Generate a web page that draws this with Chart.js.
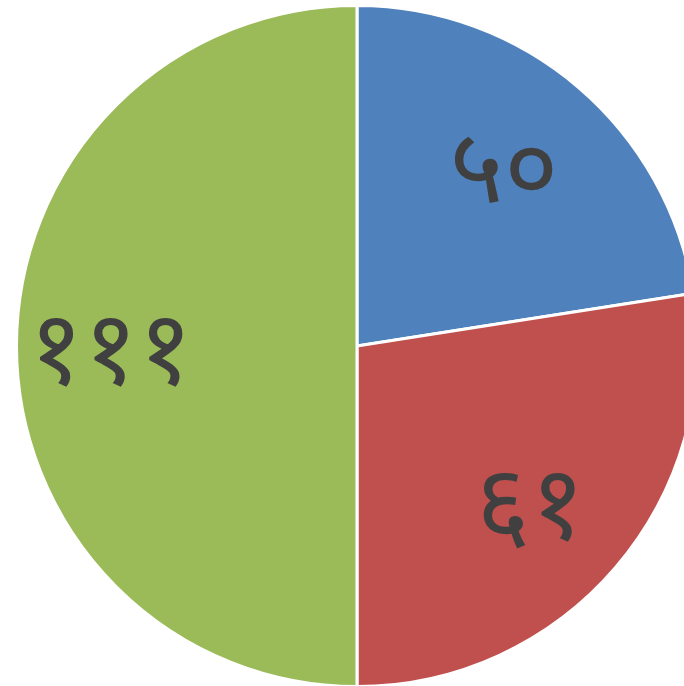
<!DOCTYPE html>
<html lang="hi">
  <head>
    <meta charset="UTF-8" />
    <title>Pie</title>
    <script src="https://cdn.jsdelivr.net/npm/chart.js"></script>
    <style>
      body {
        margin: 0;
        padding: 0;
        background: #ffffff;
        overflow: hidden;
      }
      .chart-box {
        position: absolute;
        left: 0;
        top: 0;
        width: 714px;
        height: 692px;
      }
    </style>
  </head>
  <body>
    <div class="chart-box"><canvas id="pieChart"></canvas></div>

    <script>
      const categories = ["A", "B", "C"];
      const values = [50, 61, 111];
      const valueLabels = ["५०", "६१", "१११"];
      const sliceColors = ["#4F81BD", "#C0504D", "#9BBB59"];

      // draw the value text inside each slice
      const sliceLabels = {
        id: "sliceLabels",
        afterDatasetsDraw(chart) {
          const ctx = chart.ctx;
          const meta = chart.getDatasetMeta(0);
          ctx.save();
          ctx.fillStyle = "#404040";
          ctx.font = '105px "Noto Sans", "DejaVu Sans", sans-serif';
          ctx.textAlign = "center";
          ctx.textBaseline = "middle";
          meta.data.forEach((arc, i) => {
            const p = arc.getProps(["x", "y", "startAngle", "endAngle", "outerRadius"], true);
            const mid = (p.startAngle + p.endAngle) / 2;
            const r = p.outerRadius * 0.7;
            ctx.fillText(valueLabels[i], p.x + Math.cos(mid) * r - 8, p.y + Math.sin(mid) * r + 8);
          });
          ctx.restore();
        },
      };

      new Chart(document.getElementById("pieChart"), {
        type: "pie",
        data: {
          labels: categories,
          datasets: [
            {
              data: values,
              backgroundColor: sliceColors,
              borderColor: "#ffffff",
              borderWidth: 3,
            },
          ],
        },
        options: {
          responsive: true,
          maintainAspectRatio: false,
          animation: false,
          layout: { padding: 4 },
          plugins: {
            legend: { display: false },
            tooltip: { enabled: false },
          },
        },
        plugins: [sliceLabels],
      });
    </script>
  </body>
</html>
